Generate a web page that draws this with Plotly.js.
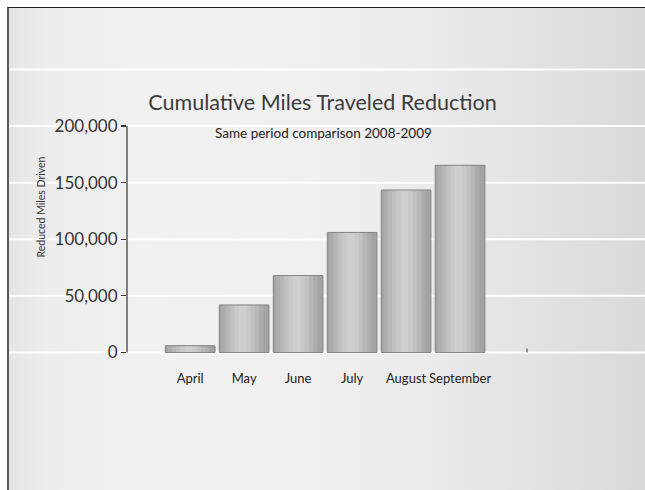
<!DOCTYPE html>
<html>
<head>
<meta charset="utf-8">
<script src="https://cdn.plot.ly/plotly-3.0.1.min.js"></script>
<style>
  html, body { margin: 0; padding: 0; background: #ffffff; overflow: hidden; }
  #panel {
    position: absolute; left: 7px; top: 7px; width: 638px; height: 483px;
    border-left: 2px solid #5a5a5a; border-top: 1px solid #222222;
    box-sizing: border-box;
    background: linear-gradient(to right, #e5e5e5 0px, #ededed 40px, #f1f1f1 130px, #f0f0f0 300px, #eaeaea 430px, #e2e2e2 530px, #d9d9d9 638px);
  }
  #chart { position: absolute; left: 0; top: 0; width: 645px; height: 490px; }
</style>
</head>
<body>
<div id="panel"></div>
<div id="chart"></div>
<script>
// ---- data ----
const months = ["April", "May", "June", "July", "August", "September"];
const reducedMiles = [6000, 42000, 68000, 106000, 143500, 165300];
const yTickVals = [0, 50000, 100000, 150000, 200000];
const gridVals = [0, 50000, 100000, 150000, 200000, 250000];

const chartTitle = "Cumulative Miles Traveled Reduction";
const subTitle = "Same period comparison 2008-2009";
const yTitle = "Reduced Miles Driven";

// ---- cylinder-like shading built from overlaid bars of the same data ----
const layers = [
  {w: 0.92, c: "#a3a3a3"},
  {w: 0.78, c: "#adadad"},
  {w: 0.62, c: "#b7b7b7"},
  {w: 0.46, c: "#c1c1c1"},
  {w: 0.30, c: "#c9c9c9"},
  {w: 0.14, c: "#cfcfcf"}
];
const shift = -0.03;
const traces = layers.map(function (L, i) {
  return {
    type: "bar", x: months, y: reducedMiles,
    width: L.w, offset: (i === 0 ? -L.w / 2 : -L.w / 2 + shift),
    marker: {color: L.c, line: {width: 0}},
    hoverinfo: "skip", showlegend: false
  };
});
traces.push({
  type: "bar", x: months, y: reducedMiles,
  width: 0.92, offset: -0.46,
  marker: {color: "rgba(0,0,0,0)", line: {color: "#858585", width: 1}},
  hoverinfo: "skip", showlegend: false
});

const shapes = gridVals.map(function (v) {
  return {type: "line", xref: "paper", yref: "y", x0: 9 / 645, x1: 1, y0: v, y1: v,
          line: {color: "#ffffff", width: 2}, layer: "below"};
});
shapes.push({type: "line", xref: "x domain", yref: "y", x0: 0, x1: 0,
             y0: yTickVals[0], y1: yTickVals[yTickVals.length - 1],
             line: {color: "#333333", width: 1.2}});
shapes.push({type: "line", xref: "x domain", yref: "y", x0: 1, x1: 1,
             y0: 0, y1: 3500, line: {color: "#333333", width: 1}});

const layout = {
  width: 645, height: 490,
  margin: {l: 0, r: 0, t: 0, b: 0},
  paper_bgcolor: "rgba(0,0,0,0)", plot_bgcolor: "rgba(0,0,0,0)",
  font: {family: "Lato, 'Open Sans', sans-serif", color: "#333"},
  barmode: "overlay",
  title: {text: chartTitle, x: 0.5, xref: "paper", xanchor: "center",
          y: 0.79, yref: "paper", yanchor: "middle",
          font: {family: "Lato, sans-serif", size: 21.5, color: "#3c3c3c"}},
  xaxis: {
    type: "category", domain: [127 / 645, 527 / 645], range: [-1.17, 6.24],
    showgrid: false, zeroline: false, showline: false, ticks: "",
    tickangle: 0, ticklabelstandoff: 13, fixedrange: true,
    tickfont: {family: "Lato, sans-serif", size: 13, color: "#222"}
  },
  yaxis: {
    domain: [0.2737, 0.8815], range: [-3000, 260000],
    tickvals: yTickVals, tickformat: ",d",
    showgrid: false, zeroline: false, showline: false,
    ticks: "outside", ticklen: 5, tickcolor: "#333333", tickwidth: 1.2,
    tickfont: {family: "Lato, sans-serif", size: 17, color: "#333"},
    title: {text: yTitle, standoff: 6, font: {family: "Lato, sans-serif", size: 10.5, color: "#333"}},
    fixedrange: true
  },
  shapes: shapes,
  annotations: [{
    text: subTitle, xref: "paper", yref: "paper", x: 323 / 645, y: (490 - 133) / 490,
    xanchor: "center", yanchor: "middle", showarrow: false,
    font: {family: "Lato, sans-serif", size: 13.5, color: "#222"}
  }]
};

Plotly.newPlot("chart", traces, layout, {displayModeBar: false, staticPlot: true});
</script>
</body>
</html>
